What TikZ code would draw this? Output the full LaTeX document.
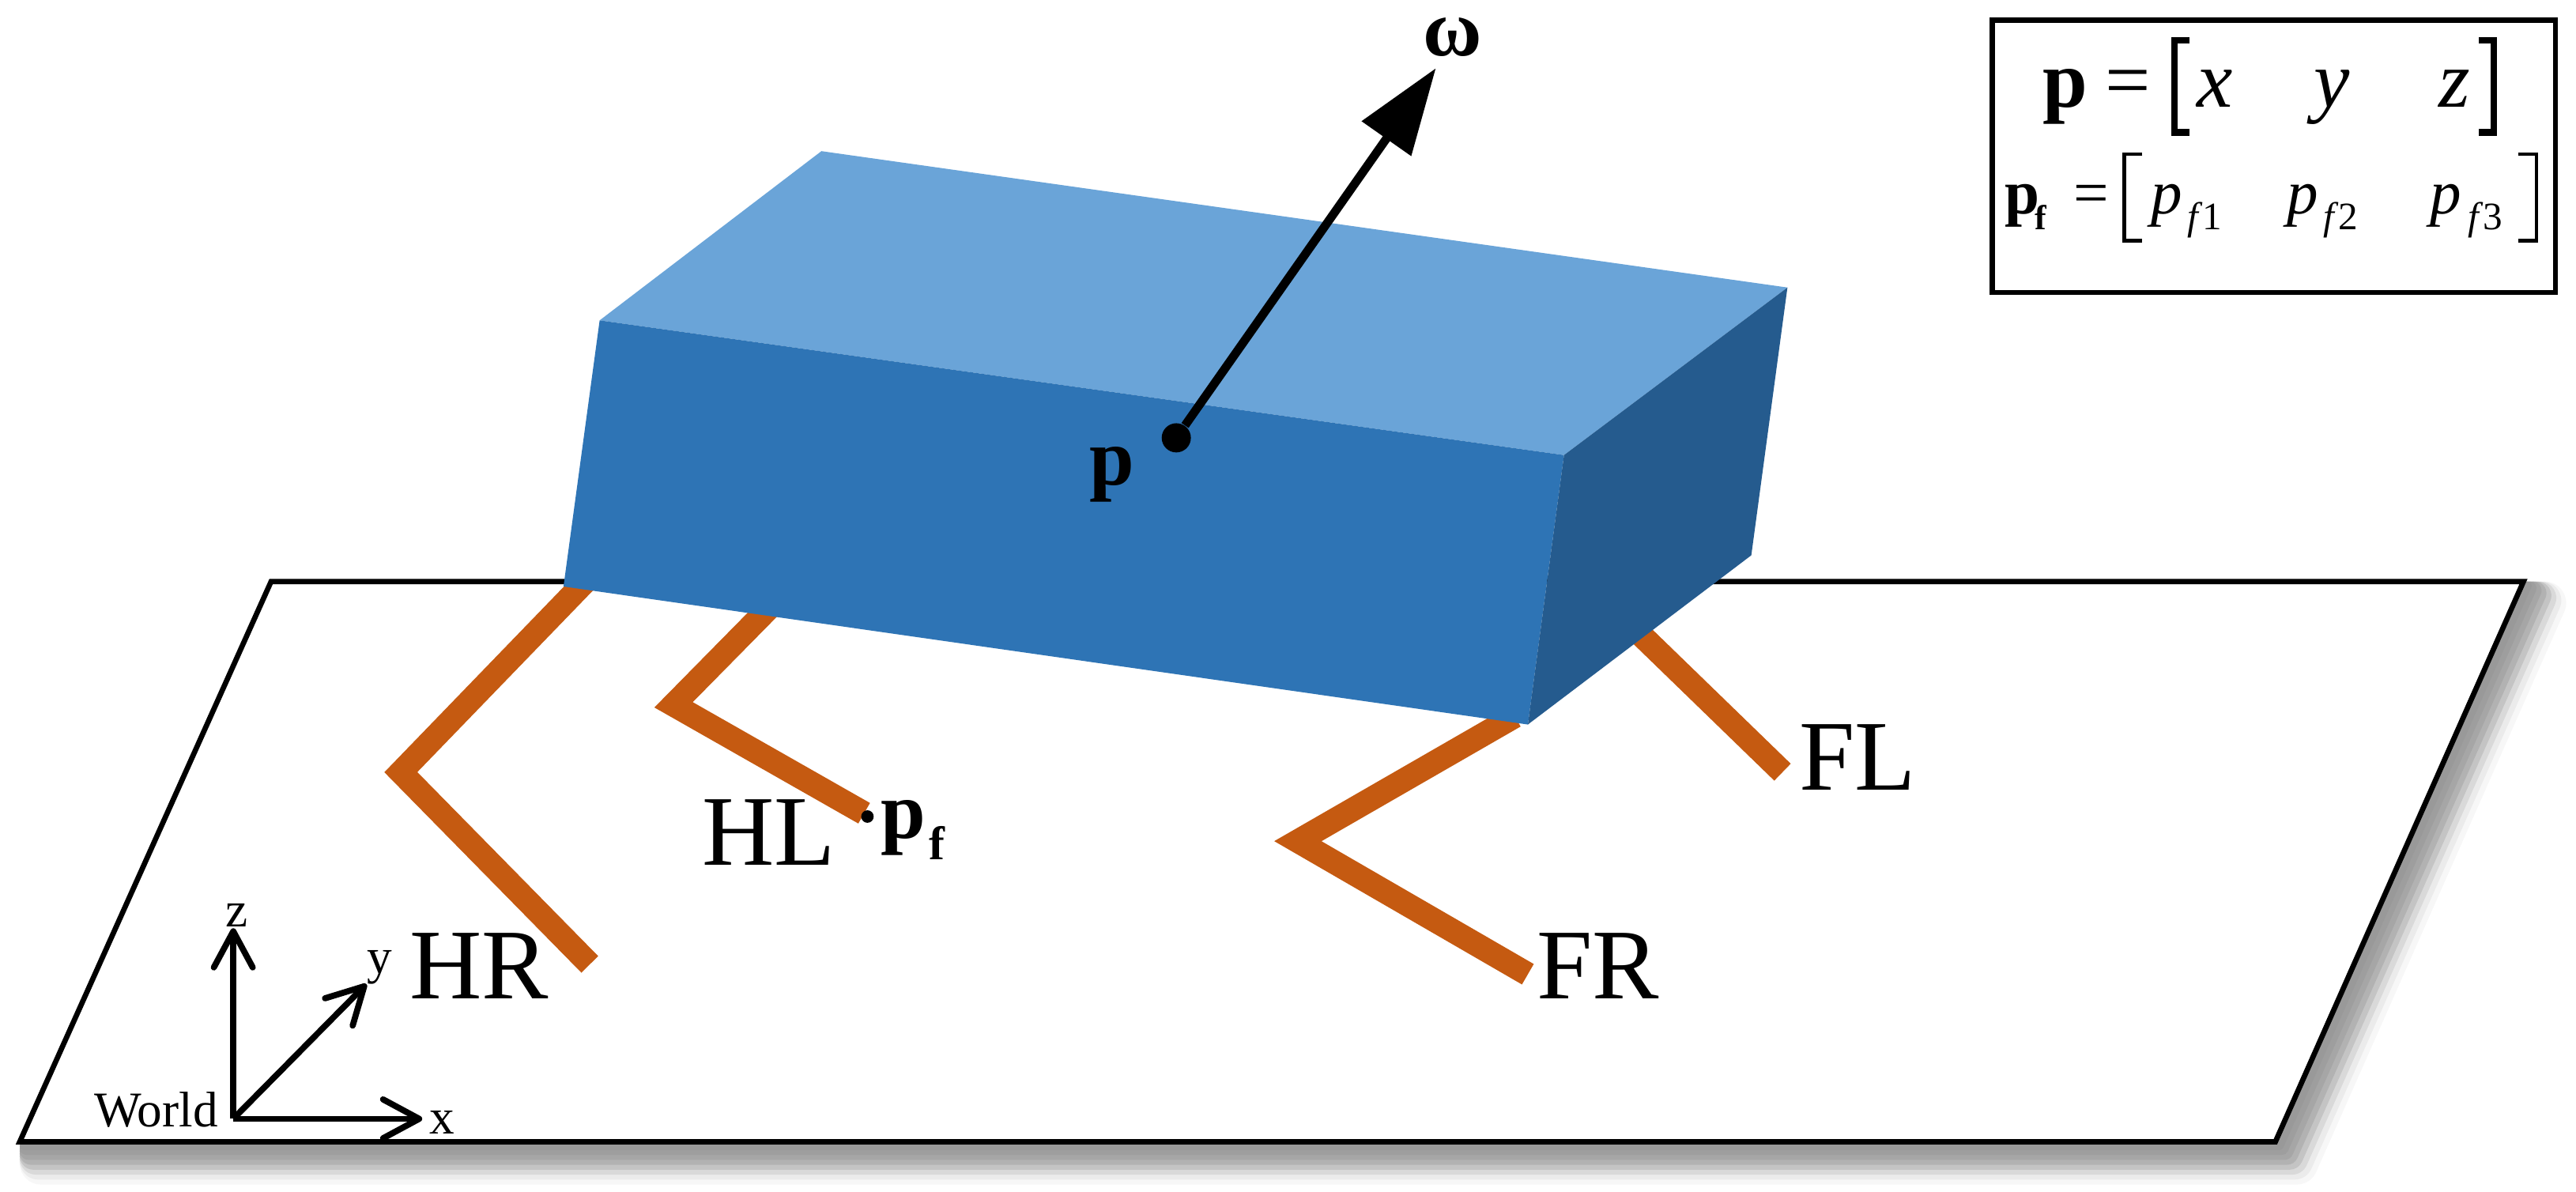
\documentclass[tikz,border=0pt]{standalone}
\usepackage{fontspec}
\setmainfont{Liberation Serif}
\usetikzlibrary{arrows.meta}
\definecolor{topface}{HTML}{6AA4D8}
\definecolor{frontface}{HTML}{2E74B5}
\definecolor{sideface}{HTML}{255B8E}
\definecolor{legcolor}{HTML}{C55A11}

\begin{document}
\begin{tikzpicture}[x=0.0207844cm,y=-0.0207844cm,
    lbl/.style={anchor=base west,inner sep=0pt},
    leglabel/.style={lbl,font=\fontsize{36}{36}\selectfont},
    axislabel/.style={lbl,font=\fontsize{18}{18}\selectfont},
    boldlabel/.style={lbl,font=\fontsize{29}{29}\selectfont\bfseries},
    rowa/.style={lbl,font=\fontsize{29}{29}\selectfont},
    rowb/.style={lbl,font=\fontsize{22.5}{22.5}\selectfont},
    subs/.style={lbl,font=\fontsize{14}{14}\selectfont},
    legline/.style={legcolor,line width=8.5pt,line join=miter},
    axisline/.style={line width=2.2pt,-{Straight Barb[length=13pt,width=14pt,round]}}]
    \useasboundingbox (0,0) rectangle (1568,725.5);

    % shadow of the ground, light to dark
    \foreach \dist/\k in {26/3,23/8,20/15,17/23,14/30,11/35,8/38,5/40,2/40}
        \draw[shift={(\dist/2,\dist/2)},black!\k,fill=black!\k,line width=\dist*0.5914pt,line join=round]
            (165,354) -- (1536,354) -- (1385,695) -- (12,695) -- cycle;

    % ground
    \draw[fill=white,line width=1.9pt] (165,354) -- (1536,354) -- (1385,695) -- (12,695) -- cycle;

    % legs
    \coordinate (hrhip) at (362,348);
    \coordinate (hrknee) at (244,470);
    \coordinate (hrfoot) at (359,587);
    \coordinate (hlhip) at (476,362);
    \coordinate (hlknee) at (410,429);
    \coordinate (hlfoot) at (526,495);
    \coordinate (frhip) at (922,436);
    \coordinate (frknee) at (790,512);
    \coordinate (frfoot) at (930,593);
    \coordinate (flhip) at (985,373);
    \coordinate (flfoot) at (1085,470);
    \draw[legline] (hrhip) -- (hrknee) -- (hrfoot);
    \draw[legline] (hlhip) -- (hlknee) -- (hlfoot);
    \draw[legline] (frhip) -- (frknee) -- (frfoot);
    \draw[legline] (flhip) -- (flfoot);

    % body
    \fill[topface] (500,92) -- (1088,175) -- (952,277) -- (365,195) -- cycle;
    \fill[frontface] (365,195) -- (952,277) -- (930,441) -- (343,357) -- cycle;
    \fill[sideface] (952,277) -- (1088,175) -- (1066,338) -- (930,441) -- cycle;

    % angular velocity
    \node[circle,fill=black,inner sep=0pt,minimum size=10.5pt] (pdot) at (716,266.5) {};
    \coordinate (omegatip) at (874,41.5);
    \draw[line width=3.1pt,-{Triangle[length=31pt,width=21pt]}] (pdot) -- (omegatip);
    \node[boldlabel] (omega) at (866,34) {ω};
    \node[boldlabel] (plabel) at (663,295) {p};

    % foot point
    \node[circle,fill=black,inner sep=0pt,minimum size=4.5pt] (pfdot) at (528,497) {};
    \node[boldlabel] (pflabel) at (536,510) {p};
    \node[lbl,font=\fontsize{17}{17}\selectfont\bfseries] (pfsub) at (565,523) {f};

    % leg names
    \node[leglabel] (hr) at (249,608) {HR};
    \node[leglabel] (hl) at (427,526.5) {HL};
    \node[leglabel] (fr) at (935,608) {FR};
    \node[leglabel] (fl) at (1095,481) {FL};

    % world frame
    \coordinate (world) at (142,681);
    \coordinate (xtip) at (257,681);
    \coordinate (ytip) at (223,599);
    \coordinate (ztip) at (142,565);
    \draw[axisline] (world) -- (xtip);
    \draw[axisline] (world) -- (ytip);
    \draw[axisline] (world) -- (ztip);
    \node[axislabel] (worldlabel) at (57,686) {World};
    \node[axislabel] (xlabel) at (261,690) {x};
    \node[axislabel] (ylabel) at (223,592.5) {y};
    \node[axislabel] (zlabel) at (137,564) {z};

    % legend
    \draw[fill=white,line width=1.9pt] (1212.7,12.3) rectangle (1555.5,178);
    \node[boldlabel] (pa) at (1243,65) {p};
    \node[rowa] (eqa) at (1281,65) {=};
    \node[rowa] (xa) at (1337,65) {\textit{x}};
    \node[rowa] (ya) at (1408,65) {\textit{y}};
    \node[rowa] (za) at (1484,65) {\textit{z}};
    \draw[line width=2.4pt] (1332.5,24.5) -- (1323.5,24.5) -- (1323.5,80.5) -- (1332.5,80.5);
    \draw[line width=2.4pt] (1509,24.5) -- (1518,24.5) -- (1518,80.5) -- (1509,80.5);

    \node[rowb,font=\fontsize{22.5}{22.5}\selectfont\bfseries] (pb) at (1220,130) {p};
    \node[subs,font=\fontsize{12.5}{12.5}\selectfont\bfseries] (pbsub) at (1238.5,140) {f};
    \node[rowb] (eqb) at (1262,130) {=};
    \draw[line width=1.2pt] (1304,94) -- (1293,94) -- (1293,146.5) -- (1304,146.5);
    \draw[line width=1.2pt] (1533,94) -- (1544,94) -- (1544,146.5) -- (1533,146.5);
    \node[rowb] (pone) at (1309,130) {\textit{p}};
    \node[subs] (subone) at (1331,140) {\textit{f}1};
    \node[rowb] (ptwo) at (1392,130) {\textit{p}};
    \node[subs] (subtwo) at (1414,140) {\textit{f}2};
    \node[rowb] (pthree) at (1479,130) {\textit{p}};
    \node[subs] (subthree) at (1502,140) {\textit{f}3};
\end{tikzpicture}
\end{document}
